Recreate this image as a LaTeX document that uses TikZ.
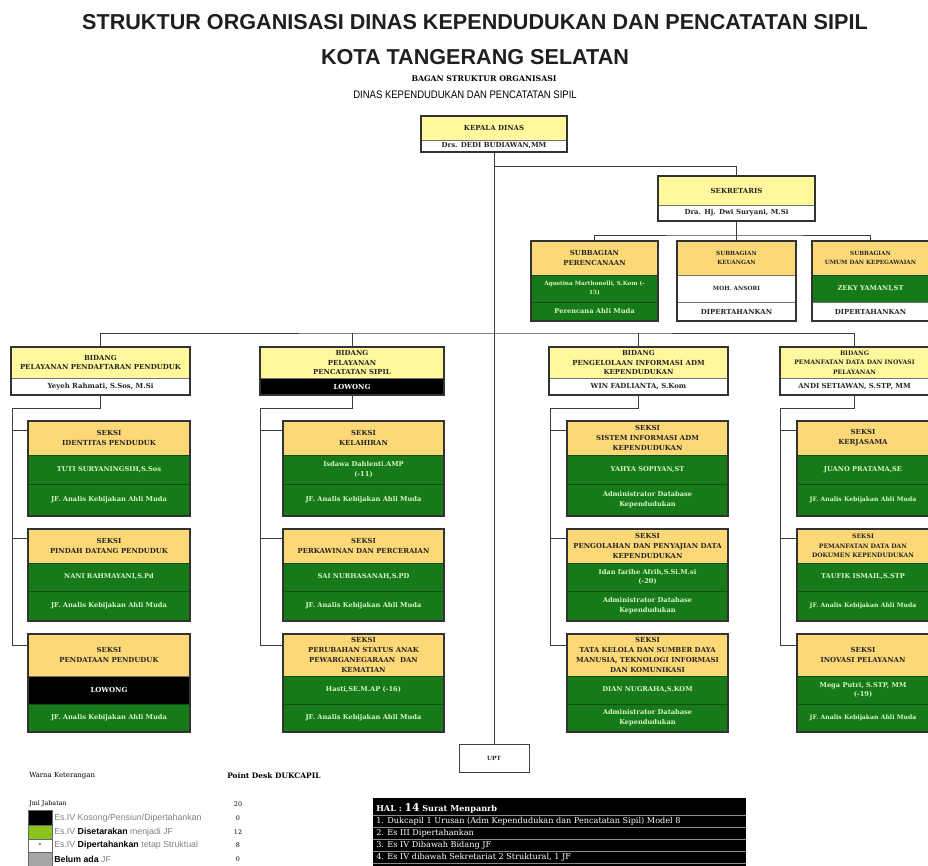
\documentclass[tikz,border=0pt]{standalone}
\usepackage{fontspec}
\usetikzlibrary{fit}
\newfontfamily\boxfont{DejaVu Serif}
\newfontfamily\titlefont{Liberation Sans}
\definecolor{kuning}{HTML}{FFF89C}
\definecolor{oranye}{HTML}{FCD877}
\definecolor{hijau}{HTML}{177A19}
\definecolor{hijaumuda}{HTML}{D6F5C6}
\definecolor{garis}{HTML}{3C3C3C}
\definecolor{hijaulgd}{HTML}{8CC21C}
% one cell of a box: style, name, x1, y1, x2, y2, text
\newcommand{\cell}[7]{\node[#1, minimum width={(#5-#3)*0.75pt}, minimum height={(#6-#4)*0.75pt}]
  (#2) at ({(#3+#5)/2},{(#4+#6)/2}) {#7};}
\tikzset{
  kotak/.style={inner sep=0pt, draw=black!55, line width=0.3pt, align=center,
    font=\boxfont\bfseries\fontsize{5.2}{7.3}\selectfont},
  kepala/.style={kotak, fill=kuning, text=black!85},
  seksi/.style={kotak, fill=oranye, text=black!85},
  pejabat/.style={kotak, fill=hijau, text=hijaumuda, draw=hijau!65!black,
    font=\boxfont\bfseries\fontsize{5}{7.3}\selectfont},
  putih/.style={kotak, fill=white, text=black!85},
  kosong/.style={kotak, fill=black, text=white},
  kecil/.style={font=\boxfont\bfseries\fontsize{4.3}{6.5}\selectfont},
  sempit/.style={font=\boxfont\bfseries\fontsize{4.6}{7.3}\selectfont},
  bingkai/.style={draw=black!80, line width=1.1pt, inner sep=0pt},
  conn/.style={draw=garis, line width=0.75pt},
  ket/.style={anchor=west, inner sep=0pt, text=black!50, font=\titlefont\fontsize{6.6}{7}\selectfont},
  nilai/.style={inner sep=0pt, font=\boxfont\fontsize{4.8}{6}\selectfont},
  halteks/.style={anchor=west, inner sep=0pt, text=white, font=\boxfont\fontsize{6.1}{7}\selectfont},
}
\begin{document}
\begin{tikzpicture}[x=0.75pt,y=-0.75pt]
  \useasboundingbox (0,0) rectangle (928,865);
  \clip (0,0) rectangle (928,865);

  % judul
  \node[font=\titlefont\bfseries\fontsize{16.2}{18}\selectfont, text=black!88] (judul1) at (475,22) {STRUKTUR ORGANISASI DINAS KEPENDUDUKAN DAN PENCATATAN SIPIL};
  \node[font=\titlefont\bfseries\fontsize{16.2}{18}\selectfont, text=black!88] (judul2) at (475,57) {KOTA TANGERANG SELATAN};
  \node[font=\boxfont\bfseries\fontsize{5.8}{7}\selectfont] (bagan) at (484,79) {BAGAN STRUKTUR ORGANISASI};
  \node[font=\titlefont\fontsize{8.2}{9}\selectfont, xscale=0.87] (dinas) at (465,95) {DINAS KEPENDUDUKAN DAN PENCATATAN SIPIL};

  % kepala dinas dan sekretariat
  \cell{kepala}{kd-h}{421}{116}{567}{140}{KEPALA DINAS}
  \cell{putih}{kd-n}{421}{140}{567}{152}{Drs. DEDI BUDIAWAN,MM}
  \node[bingkai,fit=(kd-h)(kd-n)] (kd) {};
  \cell{kepala}{sek-h}{658}{176}{815}{205}{SEKRETARIS}
  \cell{putih}{sek-n}{658}{205}{815}{221}{Dra. Hj. Dwi Suryani, M.Si}
  \node[bingkai,fit=(sek-h)(sek-n)] (sek) {};

  \cell{seksi}{sb1-h}{531}{241}{658}{275}{SUBBAGIAN\\PERENCANAAN}
  \cell{pejabat,kecil}{sb1-n}{531}{275}{658}{302}{Agustina Marthonelli, S.Kom (-\\15)}
  \cell{pejabat}{sb1-j}{531}{302}{658}{321}{Perencana Ahli Muda}
  \node[bingkai,fit=(sb1-h)(sb1-j)] (sb1) {};
  \cell{seksi,kecil}{sb2-h}{677}{241}{796}{275}{SUBBAGIAN\\KEUANGAN}
  \cell{putih,kecil}{sb2-n}{677}{275}{796}{302}{MOH. ANSORI}
  \cell{putih}{sb2-j}{677}{302}{796}{321}{DIPERTAHANKAN}
  \node[bingkai,fit=(sb2-h)(sb2-j)] (sb2) {};
  \cell{seksi,kecil}{sb3-h}{812}{241}{929}{275}{SUBBAGIAN\\UMUM DAN KEPEGAWAIAN}
  \cell{pejabat}{sb3-n}{812}{275}{929}{302}{ZEKY YAMANI,ST}
  \cell{putih}{sb3-j}{812}{302}{929}{321}{DIPERTAHANKAN}
  \node[bingkai,fit=(sb3-h)(sb3-j)] (sb3) {};

  % bidang
  \cell{kepala}{b1-h}{11}{347}{190}{378}{BIDANG\\PELAYANAN PENDAFTARAN PENDUDUK}
  \cell{putih}{b1-n}{11}{378}{190}{395}{Yeyeh Rahmati, S.Sos, M.Si}
  \node[bingkai,fit=(b1-h)(b1-n)] (b1) {};
  \cell{kepala}{b2-h}{260}{347}{444}{378}{BIDANG\\PELAYANAN\\PENCATATAN SIPIL}
  \cell{kosong}{b2-n}{260}{378}{444}{395}{LOWONG}
  \node[bingkai,fit=(b2-h)(b2-n)] (b2) {};
  \cell{kepala}{b3-h}{549}{347}{728}{378}{BIDANG\\PENGELOLAAN INFORMASI ADM\\KEPENDUDUKAN}
  \cell{putih}{b3-n}{549}{378}{728}{395}{WIN FADLIANTA, S.Kom}
  \node[bingkai,fit=(b3-h)(b3-n)] (b3) {};
  \cell{kepala,sempit}{b4-h}{780}{347}{929}{378}{BIDANG\\PEMANFATAN DATA DAN INOVASI\\PELAYANAN}
  \cell{putih}{b4-n}{780}{378}{929}{395}{ANDI SETIAWAN, S.STP, MM}
  \node[bingkai,fit=(b4-h)(b4-n)] (b4) {};

  % seksi kolom 1
  \cell{seksi}{s11-h}{28}{421}{190}{455}{SEKSI\\IDENTITAS PENDUDUK}
  \cell{pejabat}{s11-n}{28}{455}{190}{484}{TUTI SURYANINGSIH,S.Sos}
  \cell{pejabat}{s11-j}{28}{484}{190}{516}{JF. Analis Kebijakan Ahli Muda}
  \node[bingkai,fit=(s11-h)(s11-j)] (s11) {};
  \cell{seksi}{s12-h}{28}{529}{190}{563}{SEKSI\\PINDAH DATANG PENDUDUK}
  \cell{pejabat}{s12-n}{28}{563}{190}{591}{NANI RAHMAYANI,S.Pd}
  \cell{pejabat}{s12-j}{28}{591}{190}{621}{JF. Analis Kebijakan Ahli Muda}
  \node[bingkai,fit=(s12-h)(s12-j)] (s12) {};
  \cell{seksi}{s13-h}{28}{634}{190}{676}{SEKSI\\PENDATAAN PENDUDUK}
  \cell{kosong}{s13-n}{28}{676}{190}{704}{LOWONG}
  \cell{pejabat}{s13-j}{28}{704}{190}{732}{JF. Analis Kebijakan Ahli Muda}
  \node[bingkai,fit=(s13-h)(s13-j)] (s13) {};

  % seksi kolom 2
  \cell{seksi}{s21-h}{283}{421}{444}{455}{SEKSI\\KELAHIRAN}
  \cell{pejabat}{s21-n}{283}{455}{444}{484}{Isdawa Dahlenti.AMP\\(-11)}
  \cell{pejabat}{s21-j}{283}{484}{444}{516}{JF. Analis Kebijakan Ahli Muda}
  \node[bingkai,fit=(s21-h)(s21-j)] (s21) {};
  \cell{seksi}{s22-h}{283}{529}{444}{563}{SEKSI\\PERKAWINAN DAN PERCERAIAN}
  \cell{pejabat}{s22-n}{283}{563}{444}{591}{SAI NURHASANAH,S.PD}
  \cell{pejabat}{s22-j}{283}{591}{444}{621}{JF. Analis Kebijakan Ahli Muda}
  \node[bingkai,fit=(s22-h)(s22-j)] (s22) {};
  \cell{seksi}{s23-h}{283}{634}{444}{676}{SEKSI\\PERUBAHAN STATUS ANAK\\PEWARGANEGARAAN\ \ DAN\\KEMATIAN}
  \cell{pejabat}{s23-n}{283}{676}{444}{704}{Hasti,SE.M.AP (-16)}
  \cell{pejabat}{s23-j}{283}{704}{444}{732}{JF. Analis Kebijakan Ahli Muda}
  \node[bingkai,fit=(s23-h)(s23-j)] (s23) {};

  % seksi kolom 3
  \cell{seksi}{s31-h}{567}{421}{728}{455}{SEKSI\\SISTEM INFORMASI ADM\\KEPENDUDUKAN}
  \cell{pejabat}{s31-n}{567}{455}{728}{484}{YAHYA SOPIYAN,ST}
  \cell{pejabat}{s31-j}{567}{484}{728}{516}{Administrator Database\\Kependudukan}
  \node[bingkai,fit=(s31-h)(s31-j)] (s31) {};
  \cell{seksi}{s32-h}{567}{529}{728}{563}{SEKSI\\PENGOLAHAN DAN PENYAJIAN DATA\\KEPENDUDUKAN}
  \cell{pejabat}{s32-n}{567}{563}{728}{591}{Idan farihe Afrih,S.Si.M.si\\(-20)}
  \cell{pejabat}{s32-j}{567}{591}{728}{621}{Administrator Database\\Kependudukan}
  \node[bingkai,fit=(s32-h)(s32-j)] (s32) {};
  \cell{seksi}{s33-h}{567}{634}{728}{676}{SEKSI\\TATA KELOLA DAN SUMBER DAYA\\MANUSIA, TEKNOLOGI INFORMASI\\DAN KOMUNIKASI}
  \cell{pejabat}{s33-n}{567}{676}{728}{704}{DIAN NUGRAHA,S.KOM}
  \cell{pejabat}{s33-j}{567}{704}{728}{732}{Administrator Database\\Kependudukan}
  \node[bingkai,fit=(s33-h)(s33-j)] (s33) {};

  % seksi kolom 4
  \cell{seksi}{s41-h}{797}{421}{929}{455}{SEKSI\\KERJASAMA}
  \cell{pejabat}{s41-n}{797}{455}{929}{484}{JUANO PRATAMA,SE}
  \cell{pejabat,sempit}{s41-j}{797}{484}{929}{516}{JF. Analis Kebijakan Ahli Muda}
  \node[bingkai,fit=(s41-h)(s41-j)] (s41) {};
  \cell{seksi,sempit}{s42-h}{797}{529}{929}{563}{SEKSI\\PEMANFATAN DATA DAN\\DOKUMEN KEPENDUDUKAN}
  \cell{pejabat}{s42-n}{797}{563}{929}{591}{TAUFIK ISMAIL,S.STP}
  \cell{pejabat,sempit}{s42-j}{797}{591}{929}{621}{JF. Analis Kebijakan Ahli Muda}
  \node[bingkai,fit=(s42-h)(s42-j)] (s42) {};
  \cell{seksi}{s43-h}{797}{634}{929}{676}{SEKSI\\INOVASI PELAYANAN}
  \cell{pejabat}{s43-n}{797}{676}{929}{704}{Mega Putri, S.STP, MM\\(-19)}
  \cell{pejabat,sempit}{s43-j}{797}{704}{929}{732}{JF. Analis Kebijakan Ahli Muda}
  \node[bingkai,fit=(s43-h)(s43-j)] (s43) {};

  \cell{putih,kecil,draw=black!75,line width=0.7pt}{upt}{459}{744}{529}{772}{UPT}

  % garis
  \coordinate (tk1) at (494,166);
  \coordinate (tk2) at (494,333);
  \coordinate (tk3) at (736.5,235);
  \draw[conn] (kd-n.south) -- (upt.north);
  \draw[conn] (tk1) -| (sek-h.north);
  \draw[conn] (sek-n.south) -- (sb2-h.north);
  \draw[conn] (sb1-h.north) |- (tk3) -| (sb3-h.north);
  \draw[conn] (b1-h.north) |- (tk2) -| (b4-h.north);
  \draw[conn] (b2-h.north) -- (b2-h.north |- tk2);
  \draw[conn] (b3-h.north) -- (b3-h.north |- tk2);

  \coordinate (sp1) at (12,408);
  \draw[conn] (b1-n.south) |- (sp1) |- ([yshift=-9pt]s13-h.north west);
  \draw[conn] (sp1) |- ([yshift=-7pt]s11-h.north west);
  \draw[conn] (sp1) |- ([yshift=-7pt]s12-h.north west);
  \coordinate (sp2) at (260,408);
  \draw[conn] (b2-n.south) |- (sp2) |- ([yshift=-9pt]s23-h.north west);
  \draw[conn] (sp2) |- ([yshift=-7pt]s21-h.north west);
  \draw[conn] (sp2) |- ([yshift=-7pt]s22-h.north west);
  \coordinate (sp3) at (550,408);
  \draw[conn] (b3-n.south) |- (sp3) |- ([yshift=-9pt]s33-h.north west);
  \draw[conn] (sp3) |- ([yshift=-7pt]s31-h.north west);
  \draw[conn] (sp3) |- ([yshift=-7pt]s32-h.north west);
  \coordinate (sp4) at (780,408);
  \draw[conn] (b4-n.south) |- (sp4) |- ([yshift=-9pt]s43-h.north west);
  \draw[conn] (sp4) |- ([yshift=-7pt]s41-h.north west);
  \draw[conn] (sp4) |- ([yshift=-7pt]s42-h.north west);

  % keterangan warna
  \node[anchor=west, inner sep=0pt, font=\boxfont\fontsize{5.2}{6}\selectfont] (warna) at (29,776) {Warna Keterangan};
  \node[anchor=west, inner sep=0pt, font=\boxfont\bfseries\fontsize{5.6}{6}\selectfont] (desk) at (227,776) {Point Desk DUKCAPIL};
  \node[anchor=west, inner sep=0pt, font=\boxfont\fontsize{4.8}{6}\selectfont] (jml) at (29,804) {Jml Jabatan};
  \node[nilai] (jml-v) at (238,804) {20};
  \node[inner sep=0pt, draw=black!60, line width=0.3pt, fill=black, fit={(28,810)(52,825)}] (lg1) {};
  \node[inner sep=0pt, draw=black!60, line width=0.3pt, fill=hijaulgd, fit={(28,825)(52,839)}] (lg2) {};
  \node[inner sep=0pt, draw=black!60, line width=0.3pt, fill=white, fit={(28,839)(52,852)}] (lg3) {};
  \node[inner sep=0pt, font=\titlefont\bfseries\fontsize{6}{6}\selectfont] (lg3-m) at (lg3) {-};
  \node[inner sep=0pt, draw=black!60, line width=0.3pt, fill=black!35, fit={(28,852)(52,866)}] (lg4) {};
  \node[ket] (lg1-t) at (54,818) {Es.IV Kosong/Pensiun/Dipertahankan};
  \node[ket] (lg2-t) at (54,832) {Es.IV \textcolor{black}{\bfseries Disetarakan} menjadi JF};
  \node[ket] (lg3-t) at (54,845) {Es.IV \textcolor{black}{\bfseries Dipertahankan} tetap Struktual};
  \node[ket] (lg4-t) at (54,859) {\textcolor{black}{\bfseries Belum ada} JF};
  \node[nilai] (lg1-v) at (238,818) {0};
  \node[nilai] (lg2-v) at (238,832) {12};
  \node[nilai] (lg3-v) at (238,845) {8};
  \node[nilai] (lg4-v) at (238,859) {0};

  % catatan menpan
  \node[fill=black, inner sep=0pt, fit={(373,798)(746,870)}] (hal) {};
  \draw[black!45, line width=0.4pt] (373,815) -- (746,815);
  \draw[black!45, line width=0.4pt] (373,827) -- (746,827);
  \draw[black!45, line width=0.4pt] (373,839) -- (746,839);
  \draw[black!45, line width=0.4pt] (373,851) -- (746,851);
  \draw[black!45, line width=0.4pt] (373,863) -- (746,863);
  \node[halteks] (hal1) at (376,808) {\bfseries HAL : {\fontsize{8}{8}\selectfont 14} Surat Menpanrb};
  \node[halteks] (hal2) at (376,821) {1. Dukcapil 1 Urusan (Adm Kependudukan dan Pencatatan Sipil) Model 8};
  \node[halteks] (hal3) at (376,833) {2. Es III Dipertahankan};
  \node[halteks] (hal4) at (376,845) {3. Es IV Dibawah Bidang JF};
  \node[halteks] (hal5) at (376,857) {4. Es IV dibawah Sekretariat 2 Struktural, 1 JF};
\end{tikzpicture}
\end{document}
